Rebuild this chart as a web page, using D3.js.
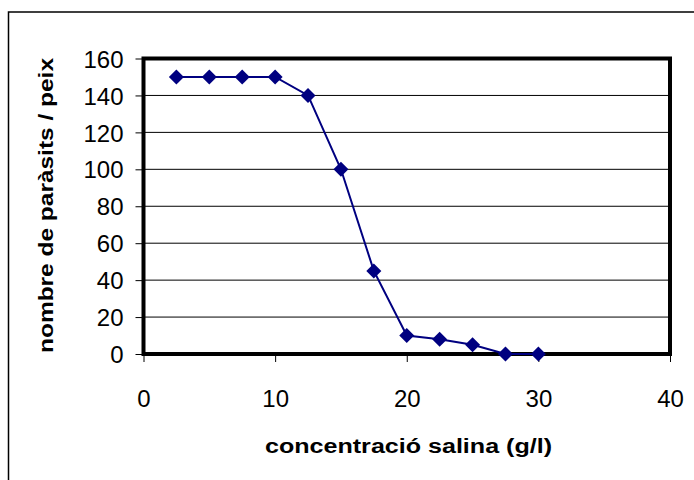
<!DOCTYPE html>
<html><head><meta charset="utf-8">
<script src="https://cdn.jsdelivr.net/npm/d3@7"></script>
<style>body{margin:0;background:#fff}svg{display:block}text{font-family:"Liberation Sans",Arial,sans-serif}</style>
</head><body>
<svg id="c" width="694" height="480"></svg>
<script>
const concentration = [2.5, 5, 7.5, 10, 12.5, 15, 17.5, 20, 22.5, 25, 27.5, 30];
const parasites = [150, 150, 150, 150, 140, 100, 45, 10, 8, 5, 0, 0];
const xTicks = [0, 10, 20, 30, 40];
const yTicks = [0, 20, 40, 60, 80, 100, 120, 140, 160];
const xTitle = "concentració salina (g/l)";
const yTitle = "nombre de paràsits / peix";

const svg = d3.select("#c");
const L = 143.5, R = 670, T = 58.5, B = 354;
const x = d3.scaleLinear().domain([0, 40]).range([L, R]);
const y = d3.scaleLinear().domain([0, 160]).range([B, T]);

svg.append("rect").attr("x", 8.5).attr("y", 12).attr("width", 700).attr("height", 500)
  .attr("fill", "none").attr("stroke", "#000").attr("stroke-width", 1.5);

// gridlines
svg.append("g").selectAll("line").data(yTicks.filter(d => d > 0 && d < 160)).join("line")
  .attr("x1", L).attr("x2", R).attr("y1", d => y(d)).attr("y2", d => y(d))
  .attr("stroke", "#000").attr("stroke-width", 1);

// axes
const yAxis = d3.axisLeft(y).tickValues(yTicks).tickSize(8).tickPadding(12);
const gy = svg.append("g").attr("transform", `translate(${L},0)`).call(yAxis);
gy.select(".domain").remove();
gy.selectAll("text").attr("font-size", 24).attr("fill", "#000").attr("dy", "0.36em");
gy.selectAll("line").attr("stroke", "#000");

const xAxis = d3.axisBottom(x).tickValues(xTicks).tickSize(8).tickPadding(28);
const gx = svg.append("g").attr("transform", `translate(0,${B})`).call(xAxis);
gx.select(".domain").remove();
gx.selectAll("text").attr("font-size", 24).attr("fill", "#000");
gx.selectAll("line").attr("stroke", "#000");

// plot frame
svg.append("rect").attr("x", L).attr("y", T).attr("width", R - L).attr("height", B - T)
  .attr("fill", "none").attr("stroke", "#000").attr("stroke-width", 4);

// series
const line = d3.line().x((d, i) => x(concentration[i])).y(d => y(d));
svg.append("path").datum(parasites).attr("d", line).attr("fill", "none")
  .attr("stroke", "#000080").attr("stroke-width", 2);
const sym = d3.symbol().type(d3.symbolDiamond2).size(144);
svg.append("g").selectAll("path").data(parasites).join("path")
  .attr("transform", (d, i) => `translate(${x(concentration[i])},${y(d)})`)
  .attr("d", sym).attr("fill", "#000080");

// titles
svg.append("text").attr("x", 408.5).attr("y", 453).attr("text-anchor", "middle")
  .attr("font-size", 20).attr("font-weight", "bold")
  .attr("textLength", 287).attr("lengthAdjust", "spacingAndGlyphs").text(xTitle);
svg.append("text").attr("transform", "translate(53,205.5) rotate(-90)").attr("text-anchor", "middle")
  .attr("font-size", 20).attr("font-weight", "bold")
  .attr("textLength", 295).attr("lengthAdjust", "spacingAndGlyphs").text(yTitle);
</script>
</body></html>
